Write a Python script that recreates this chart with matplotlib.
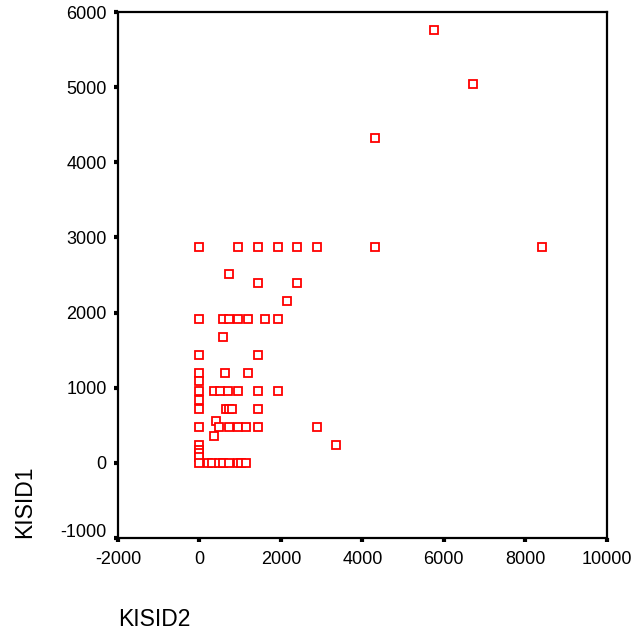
import matplotlib
matplotlib.use("Agg")
import matplotlib.pyplot as plt
import matplotlib.transforms as mtransforms

plt.rcParams['font.family'] = ['Liberation Sans', 'DejaVu Sans']

# KISID2 (x) and KISID1 (y), one pair per case
kisid2 = [5760, 6720, 4320, 4320, 8400, 3360, 2880,
          0, 960, 1440, 1920, 2400, 2880,
          720, 1440, 2400, 2160,
          0, 580, 720, 960, 1200, 1620, 1920,
          580,
          0, 1440,
          0, 620, 1200,
          0,
          0, 350, 515, 712, 960, 1440, 1920,
          0,
          0, 655, 720, 803, 1440,
          400,
          0, 491, 720, 960, 1147, 1440,
          360,
          0, 0, 0, 0,
          0, 204, 312, 491, 573, 737, 941, 1024, 1147]
kisid1 = [5760, 5040, 4320, 2880, 2880, 240, 480,
          2880, 2880, 2880, 2880, 2880, 2880,
          2520, 2400, 2400, 2160,
          1920, 1920, 1920, 1920, 1920, 1920, 1920,
          1680,
          1440, 1440,
          1200, 1200, 1200,
          1090,
          960, 960, 960, 960, 960, 960, 960,
          840,
          720, 720, 720, 720, 720,
          560,
          480, 480, 480, 480, 480, 480,
          360,
          240, 170, 130, 84,
          0, 0, 0, 0, 0, 0, 0, 0, 0]

xticks = [-2000, 0, 2000, 4000, 6000, 8000, 10000]
yticks = [-1000, 0, 1000, 2000, 3000, 4000, 5000, 6000]

fig = plt.figure(figsize=(6.34, 6.37), dpi=100)
ax = fig.add_axes([0.186, 0.1554, 0.771, 0.8256])

ax.plot(kisid2, kisid1, linestyle='none', marker='s', markersize=5.6,
        markerfacecolor='white', markeredgecolor='#ff0000', markeredgewidth=1.3)

ax.set_xlim(-2000, 10000)
ax.set_ylim(-1000, 6000)
ax.set_xticks(xticks)
ax.set_yticks(yticks)
ax.set_xticklabels([str(t) for t in xticks])
ax.set_yticklabels([str(t) for t in yticks])

for s in ax.spines.values():
    s.set_linewidth(1.6)
    s.set_color('black')

ax.tick_params(direction='out', length=3, width=3, labelsize=13, color='black')
ax.tick_params(axis='y', pad=5)
ax.tick_params(axis='x', pad=6)

# raise the bottom y label a little so it clears the x labels
lbl = ax.get_yticklabels()[0]
lbl.set_transform(lbl.get_transform() + mtransforms.ScaledTranslation(0, 8 / 100, fig.dpi_scale_trans))

fig.text(118 / 634, 1 - 620 / 637, 'KISID2', fontsize=16.5, ha='left', va='center')
fig.text(25 / 634, 1 - 538 / 637, 'KISID1', fontsize=16.5, ha='center', va='bottom', rotation=90)

fig.savefig('out.png', dpi=100)
